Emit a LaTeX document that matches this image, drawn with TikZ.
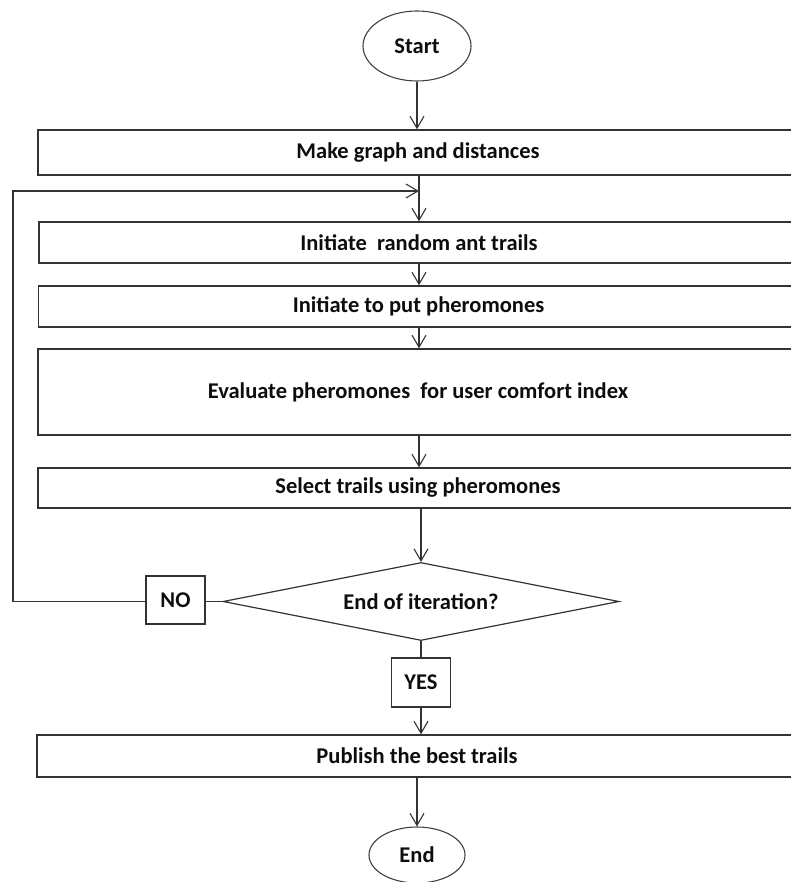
\documentclass[tikz,border=0pt]{standalone}
\usepackage{fontspec}
\setmainfont{Carlito}
\usetikzlibrary{shapes.geometric,arrows.meta}
\begin{document}
\begin{tikzpicture}[x=1pt,y=-1pt,
  every node/.style={font=\bfseries\fontsize{22.5}{26}\selectfont, text=black!95},
  stepbox/.style={draw=black!80, line width=1.4pt, minimum width=760pt, inner sep=0pt},
  terminal/.style={ellipse, draw=black!75, line width=1.1pt, inner sep=0pt},
  decision/.style={diamond, draw=black!80, line width=1.2pt, aspect=5.08,
    minimum width=396pt, minimum height=78pt, inner sep=0pt},
  labelbox/.style={draw=black!80, line width=1.3pt, inner sep=0pt},
  conn/.style={draw=black!80, line width=1.1pt},
  arr/.style={conn, -{Straight Barb[length=12pt,width=14pt,line width=1.1pt]}}
]
\useasboundingbox (0,0) rectangle (791,882);
\clip (0,0) rectangle (791,882);

% terminals
\node[terminal, minimum width=108pt, minimum height=70pt] (start) at (417,46) {Start};
\node[terminal, minimum width=96pt, minimum height=56pt] (end) at (417,855) {End};

% process steps
\node[stepbox, minimum height=45pt] (make)   at (418,152.5) {Make graph and distances};
\node[stepbox, minimum height=41pt] (trails) at (419,242.5) {Initiate\ \ random ant trails};
\node[stepbox, minimum height=41pt] (put)    at (418.5,306.5) {Initiate to put pheromones};
\node[stepbox, minimum height=86pt] (eval)   at (418,392) {Evaluate pheromones\ \ for user comfort index};
\node[stepbox, minimum height=40pt] (select) at (418,488) {Select trails using pheromones};

% decision and its answers
\node[decision] (iter) at (421,601.5) {End of iteration?};
\node[labelbox, minimum width=59pt, minimum height=48pt] (no)  at (175.5,600) {NO};
\node[labelbox, minimum width=59pt, minimum height=49pt] (yes) at (421,682.5) {YES};

\node[stepbox, minimum height=42pt] (publish) at (417,756) {Publish the best trails};

% loop-back geometry
\coordinate (loopx) at (13,0);
\coordinate (join) at (419,191);

% connectors
\draw[arr] (start.south) -- (start.south |- make.north);
\draw[conn] (make.south -| join) -- (join);
\draw[arr] (join) -- (join |- trails.north);
\draw[arr] (trails.south -| join) -- (join |- put.north);
\draw[arr] (put.south -| join) -- (join |- eval.north);
\draw[arr] (eval.south -| join) -- (join |- select.north);
\draw[arr] (iter.north |- select.south) -- (iter.north);
\draw[conn] (iter.west) -- (iter.west -| no.east);
\draw[arr] (no.west |- iter.west) -- (iter.west -| loopx) |- (join);
\draw[conn] (iter.south) -- (yes.north);
\draw[arr] (yes.south) -- (yes.south |- publish.north);
\draw[arr] (publish.south) -- (end.north);
\end{tikzpicture}
\end{document}
